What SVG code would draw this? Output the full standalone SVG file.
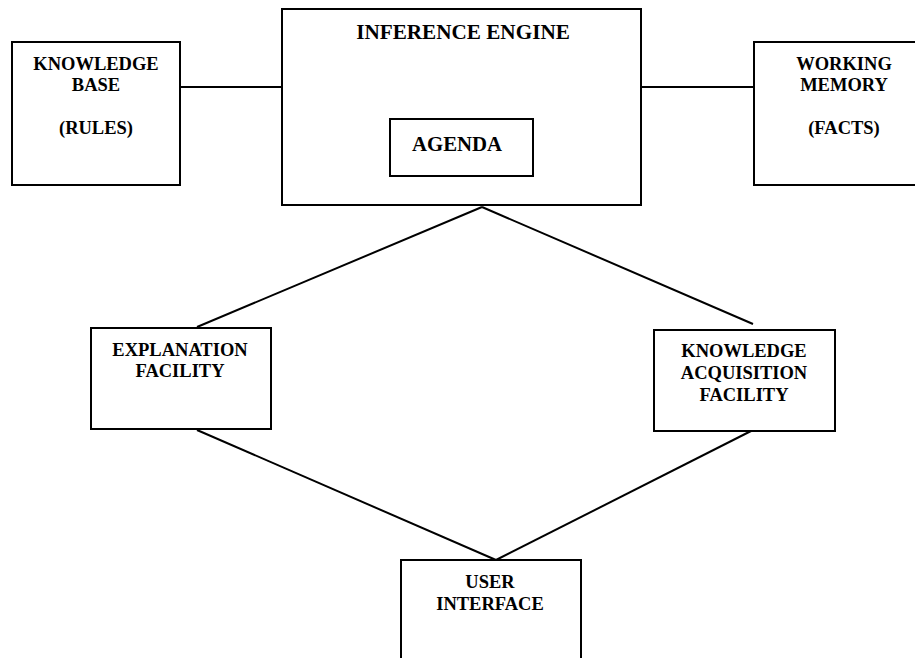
<svg xmlns="http://www.w3.org/2000/svg" width="915" height="658" viewBox="0 0 915 658">
  <style>
    .box { fill: #ffffff; stroke: #000000; stroke-width: 2; }
    .link { fill: none; stroke: #000000; stroke-width: 2; }
    text { font-family: "Liberation Serif", "Times New Roman", serif; font-weight: bold; fill: #000000; text-anchor: middle; }
    .sm { font-size: 18.5px; }
    .lg { font-size: 20.8px; }
    .xl { font-size: 21.2px; }
  </style>
  <rect width="915" height="658" fill="#ffffff"/>

  <!-- connectors -->
  <g id="connectors">
    <line class="link" x1="179" y1="87" x2="283" y2="87"/>
    <line class="link" x1="641" y1="87" x2="755" y2="87"/>
    <line class="link" x1="482" y1="207" x2="197" y2="327"/>
    <line class="link" x1="482" y1="207" x2="753" y2="324"/>
    <line class="link" x1="197" y1="430" x2="496" y2="560"/>
    <line class="link" x1="753" y1="430" x2="496" y2="560"/>
  </g>

  <g id="knowledge-base">
    <rect class="box" x="12" y="42" width="168" height="143"/>
    <text class="sm" x="96" y="70">KNOWLEDGE</text>
    <text class="sm" x="96" y="91">BASE</text>
    <text class="sm" x="96" y="134">(RULES)</text>
  </g>

  <g id="inference-engine">
    <rect class="box" x="282" y="9" width="359" height="196"/>
    <text class="xl" x="463" y="39">INFERENCE ENGINE</text>
  </g>

  <g id="agenda">
    <rect class="box" x="390" y="119" width="143" height="57"/>
    <text class="lg" x="457" y="151">AGENDA</text>
  </g>

  <g id="working-memory">
    <rect class="box" x="754" y="42" width="180" height="143"/>
    <text class="sm" x="844" y="70">WORKING</text>
    <text class="sm" x="844" y="91">MEMORY</text>
    <text class="sm" x="844" y="134">(FACTS)</text>
  </g>

  <g id="explanation-facility">
    <rect class="box" x="91" y="328" width="180" height="101"/>
    <text class="sm" x="180" y="356">EXPLANATION</text>
    <text class="sm" x="180" y="377">FACILITY</text>
  </g>

  <g id="knowledge-acquisition-facility">
    <rect class="box" x="654" y="330" width="181" height="101"/>
    <text class="sm" x="744" y="357">KNOWLEDGE</text>
    <text class="sm" x="744" y="379">ACQUISITION</text>
    <text class="sm" x="744" y="401">FACILITY</text>
  </g>

  <g id="user-interface">
    <rect class="box" x="401" y="560" width="180" height="140"/>
    <text class="sm" x="490" y="588">USER</text>
    <text class="sm" x="490" y="610">INTERFACE</text>
  </g>
</svg>
